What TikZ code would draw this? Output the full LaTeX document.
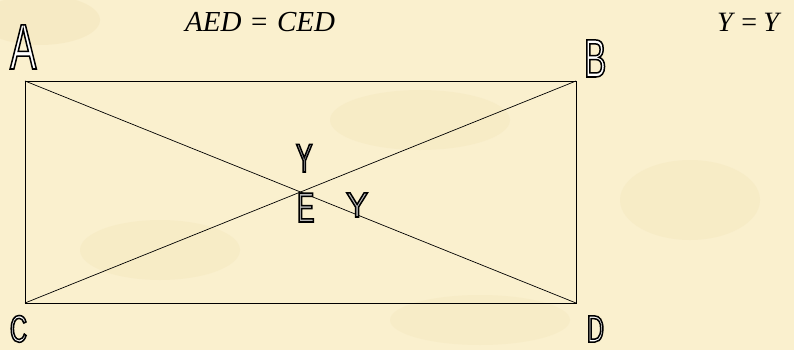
\documentclass[tikz,border=0pt]{standalone}
\usepackage{fontspec}
\setmainfont{Liberation Serif}
\newfontfamily\labnarrow[FakeStretch=0.62]{Liberation Sans}
\newfontfamily\labwide[FakeStretch=0.95]{Liberation Sans}
\definecolor{parch}{RGB}{250,240,206}
\definecolor{parchdark}{RGB}{244,230,188}
\newcommand{\hollow}[2]{\textcolor{#1}{\special{pdf:literal direct 2 Tr 1.5 w 0 G}#2\special{pdf:literal direct 0 Tr}}}
\begin{document}
\begin{tikzpicture}[x=1pt,y=-1pt,
  lab/.style={inner sep=0pt,outer sep=0pt,anchor=base west},
  edge/.style={line width=0.9pt,draw=black},
  diag/.style={line width=0.7pt,draw=black},
  eq/.style={inner sep=0pt,anchor=base west,font=\fontsize{29}{31}\selectfont}]
\useasboundingbox (0,0) rectangle (794,350);
\clip (0,0) rectangle (794,350);
\fill[parch] (0,0) rectangle (794,350);
\fill[parchdark,opacity=0.5] (40,20) ellipse (60 and 25);
\fill[parchdark,opacity=0.4] (420,120) ellipse (90 and 30);
\fill[parchdark,opacity=0.4] (160,250) ellipse (80 and 30);
\fill[parchdark,opacity=0.4] (690,200) ellipse (70 and 40);
\fill[parchdark,opacity=0.35] (480,320) ellipse (90 and 25);
% corners
\coordinate (A) at (25,81);
\coordinate (B) at (576,81);
\coordinate (C) at (25,303);
\coordinate (D) at (576,303);
\coordinate (E) at (300.5,192);
\draw[edge] (A) -- (B) -- (D) -- (C) -- cycle;
\draw[diag] (A) -- (D);
\draw[diag] (C) -- (B);
% labels
\node[lab] (lA) at (10,69) {\fontsize{64}{64}\selectfont\labnarrow\hollow{white}{A}};
\node[lab] (lB) at (584,77) {\fontsize{54}{54}\selectfont\labnarrow\hollow{white}{B}};
\node[lab] (lC) at (10,342) {\fontsize{38}{38}\selectfont\labnarrow\hollow{white}{C}};
\node[lab] (lD) at (587,342) {\fontsize{38}{38}\selectfont\labnarrow\hollow{white}{D}};
\node[lab] (lE) at (297,222) {\fontsize{42}{42}\selectfont\labnarrow\hollow{gray!55}{E}};
\node[lab] (lY1) at (296,172) {\fontsize{40}{40}\selectfont\labnarrow\hollow{gray!55}{Y}};
\node[lab] (lY2) at (346,217) {\fontsize{35}{35}\selectfont\labwide\hollow{gray!55}{Y}};
% equations
\node[eq] (eq1) at (185,32) {\textit{AED}\hspace{0.33em}=\hspace{0.33em}\textit{CED}};
\node[eq,font=\fontsize{28}{30}\selectfont] (eq2) at (717,32) {\textit{Y}\hspace{0.22em}=\hspace{0.22em}\textit{Y}};
\end{tikzpicture}
\end{document}
